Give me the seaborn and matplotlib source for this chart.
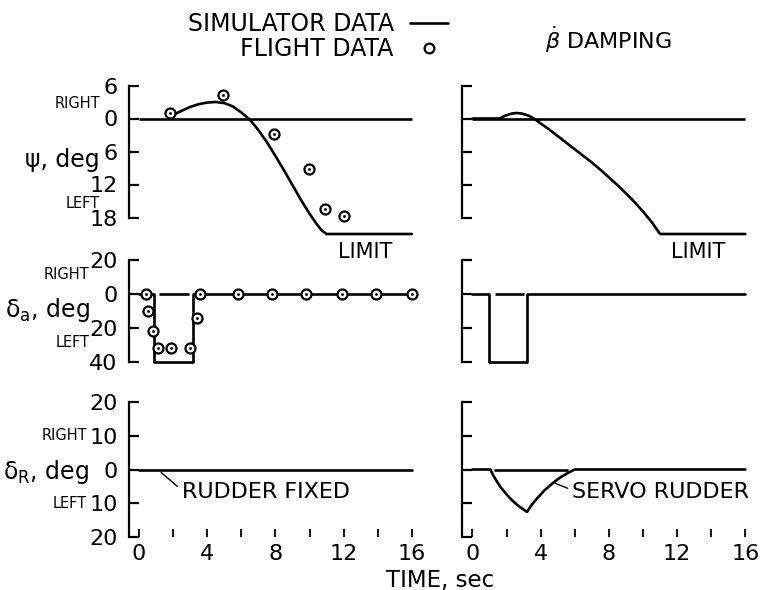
import matplotlib
matplotlib.use("Agg")
import matplotlib.pyplot as plt
from matplotlib.lines import Line2D
from matplotlib.ticker import MultipleLocator
import seaborn as sns

# --- data (time in sec, right = positive) ---
# heading psi, deg
psi_sim_t = [1.9, 2.5, 3.0, 3.5, 4.0, 4.5, 5.0, 5.5, 6.0, 6.5, 7.0, 7.5, 8.0, 8.5, 9.0, 9.5,
             10.0, 10.4, 10.7, 11.0, 16.0]
psi_sim = [0.5, 1.4, 2.1, 2.6, 2.9, 3.0, 2.8, 2.2, 1.1, -0.2, -2.1, -4.3, -6.8, -9.4, -12.1, -14.8,
           -17.3, -19.1, -20.3, -21.0, -21.0]
psi_flt_t = [1.8, 4.9, 7.9, 9.95, 10.9, 12.0]
psi_flt = [1.0, 4.2, -2.9, -9.1, -16.4, -17.8]
psi_bd_t = [0.0, 1.6, 1.9, 2.3, 2.6, 2.9, 3.3, 3.6, 4.0, 4.5, 5.0, 5.5, 6.0, 6.5, 7.0,
            7.5, 8.0, 8.5, 9.0, 9.5, 10.0, 10.5, 11.0, 16.0]
psi_bd = [0.0, 0.0, 0.5, 0.9, 1.0, 0.9, 0.5, 0.0, -0.9, -2.0, -3.2, -4.4, -5.6, -6.8, -8.0,
          -9.3, -10.7, -12.1, -13.6, -15.2, -16.9, -18.8, -21.0, -21.0]

# aileron delta_a, deg
da_sim_t = [0.0, 0.9, 0.9, 3.15, 3.15, 16.0]
da_sim = [0, 0, -40, -40, 0, 0]
da_flt_t = [0.4, 0.5, 0.85, 1.1, 1.9, 3.0, 3.4, 3.55, 5.8, 7.8, 9.8, 11.9, 13.9, 16.0]
da_flt = [0, -10, -22, -32, -32, -32, -14, 0, 0, 0, 0, 0, 0, 0]
da_bd_t = [0.0, 0.95, 0.95, 3.2, 3.2, 16.0]
da_bd = [0, 0, -40, -40, 0, 0]

# rudder delta_R, deg
dr_fixed_t = [0.0, 16.0]
dr_fixed = [0, 0]
dr_servo_t = [0.0, 1.05, 1.2, 1.4, 1.6, 1.8, 2.0, 2.2, 2.4, 2.6, 2.8, 3.0, 3.2,
              3.4, 3.6, 3.8, 4.0, 4.2, 4.4, 4.6, 4.8, 5.0, 5.2, 5.4, 5.6, 5.8, 6.0, 16.0]
dr_servo = [0, 0, -1.6, -3.3, -4.9, -6.2, -7.4, -8.5, -9.5, -10.4, -11.2, -11.9, -12.6,
            -11.0, -9.7, -8.5, -7.4, -6.3, -5.4, -4.5, -3.7, -2.9, -2.2, -1.6, -1.0, -0.5, 0, 0]

# zero reference pieces
zero_full = (0.0, 16.0)
zero_da_left = (1.2, 2.95)
zero_da_right = (1.3, 3.0)
zero_dr_right = (1.25, 5.6)

psi_ticks = [6, 0, -6, -12, -18]
da_ticks = [20, 0, -20, -40]
dr_ticks = [20, 10, 0, -10, -20]
time_ticks = [0, 4, 8, 12, 16]

# --- layout (pixels of a 765x590 canvas) ---
W, H = 765, 590
X_PPU = 17.05
XLIM = (-0.6, 16.6)
COL_X0 = [139.0, 472.5]
# (ylim, pixel row of zero, pixels per degree)
ROWS = [((-22.5, 7.5), 118.5, 5.5),
        ((-42.0, 22.0), 294.0, 1.7),
        ((-20.0, 22.0), 469.5, 3.37)]
LW = 1.9

sns.set_style("white")
plt.rcParams['font.family'] = ['DejaVu Sans']
plt.rcParams['mathtext.fontset'] = 'dejavusans'
plt.rcParams['text.color'] = 'black'

fig = plt.figure(figsize=(W / 100, H / 100), dpi=100)


def make_ax(x0, ylim, zero_px, ppd):
    left = x0 + XLIM[0] * X_PPU
    width = (XLIM[1] - XLIM[0]) * X_PPU
    top = zero_px - ylim[1] * ppd
    height = (ylim[1] - ylim[0]) * ppd
    ax = fig.add_axes([left / W, 1 - (top + height) / H, width / W, height / H])
    ax.set_xlim(XLIM)
    ax.set_ylim(ylim)
    ax.patch.set_alpha(0)
    return ax


def style_ax(ax, ticks, show_labels, bottom_row):
    for s in ['top', 'right', 'bottom']:
        ax.spines[s].set_visible(False)
    ax.spines['left'].set_bounds(ticks[-1], ticks[0])
    ax.spines['left'].set_linewidth(1.6)
    ax.spines['left'].set_color('black')
    labels = [str(abs(t)) for t in ticks] if show_labels else [''] * len(ticks)
    ax.set_yticks(ticks, labels)
    ax.tick_params(axis='y', direction='in', length=7, width=1.6, labelsize=16,
                   pad=8, left=True, colors='black')
    if bottom_row:
        ax.set_xticks(time_ticks, [str(t) for t in time_ticks])
        ax.xaxis.set_minor_locator(MultipleLocator(2))
        ax.tick_params(axis='x', which='both', direction='in', length=6, width=1.3,
                       labelsize=16, pad=5, bottom=True, colors='black')
    else:
        ax.set_xticks([])
    ax.set_xlabel('')
    ax.set_ylabel('')


def line(ax, t, v):
    sns.lineplot(x=t, y=v, ax=ax, sort=False, estimator=None, color='black',
                 linewidth=LW, legend=False)


def flight(ax, t, v):
    sns.scatterplot(x=t, y=v, ax=ax, s=52, color='white', edgecolor='black',
                    linewidth=1.6, zorder=4, legend=False)
    sns.scatterplot(x=t, y=v, ax=ax, s=3, color='black', edgecolor='black',
                    linewidth=0.3, zorder=5, legend=False)


axes = [[make_ax(x0, *row) for x0 in COL_X0] for row in ROWS]

# row 1: heading
a, b = axes[0]
a.hlines(0, *zero_full, color='black', lw=LW)
line(a, psi_sim_t, psi_sim)
flight(a, psi_flt_t, psi_flt)
b.hlines(0, *zero_full, color='black', lw=LW)
line(b, psi_bd_t, psi_bd)
for ax in (a, b):
    style_ax(ax, psi_ticks, ax is a, False)
    ax.text(11.65, -24.3, 'LIMIT', fontsize=15, ha='left', va='center', clip_on=False)
a.text(-2.3, 2.8, 'RIGHT', fontsize=10.5, ha='right', va='center')
a.text(-2.3, -15.4, 'LEFT', fontsize=10.5, ha='right', va='center')
a.text(-2.3, -7.5, 'ψ, deg', fontsize=17, ha='right', va='center')
b.set_title(r'$\dot{\beta}$ DAMPING', fontsize=16, pad=20)

# row 2: aileron
a, b = axes[1]
line(a, da_sim_t, da_sim)
a.hlines(0, *zero_da_left, color='black', lw=LW)
flight(a, da_flt_t, da_flt)
line(b, da_bd_t, da_bd)
b.hlines(0, *zero_da_right, color='black', lw=LW)
for ax in (a, b):
    style_ax(ax, da_ticks, ax is a, False)
a.text(-2.9, 11.2, 'RIGHT', fontsize=10.5, ha='right', va='center')
a.text(-2.9, -28.8, 'LEFT', fontsize=10.5, ha='right', va='center')
a.text(-2.9, -9.4, r'δ$_\mathregular{a}$, deg', fontsize=17, ha='right', va='center')

# row 3: rudder
a, b = axes[2]
line(a, dr_fixed_t, dr_fixed)
line(b, dr_servo_t, dr_servo)
b.hlines(0, *zero_dr_right, color='black', lw=LW)
for ax in (a, b):
    style_ax(ax, dr_ticks, ax is a, True)
a.text(-3.05, 10, 'RIGHT', fontsize=10.5, ha='right', va='center')
a.text(-3.05, -10, 'LEFT', fontsize=10.5, ha='right', va='center')
a.text(-2.9, -0.7, r'δ$_\mathregular{R}$, deg', fontsize=17, ha='right', va='center')
a.annotate('RUDDER FIXED', xy=(1.3, -0.9), xytext=(2.5, -6.7), fontsize=16,
           ha='left', va='center',
           arrowprops=dict(arrowstyle='-', lw=1.0, color='black', relpos=(0, 0.6),
                           shrinkA=1, shrinkB=0))
b.annotate('SERVO RUDDER', xy=(4.8, -4.0), xytext=(5.85, -6.7), fontsize=16,
           ha='left', va='center', annotation_clip=False,
           arrowprops=dict(arrowstyle='-', lw=1.0, color='black', relpos=(0, 0.6),
                           shrinkA=1, shrinkB=0))

fig.text(440 / W, 1 - 580 / H, 'TIME, sec', fontsize=16.5, ha='center', va='center')

handles = [Line2D([], [], color='black', lw=LW),
           Line2D([], [], ls='none', marker='o', ms=7, mfc='none', mec='black', mew=1.6)]
fig.legend(handles, ['SIMULATOR DATA', 'FLIGHT DATA'], markerfirst=False, frameon=False,
           loc='upper right', bbox_to_anchor=(448 / W, 1 - 12 / H), fontsize=17,
           handlelength=1.6, handletextpad=0.7, labelspacing=0.05,
           borderpad=0, borderaxespad=0)

fig.savefig('out.png', dpi=100, facecolor='white')
